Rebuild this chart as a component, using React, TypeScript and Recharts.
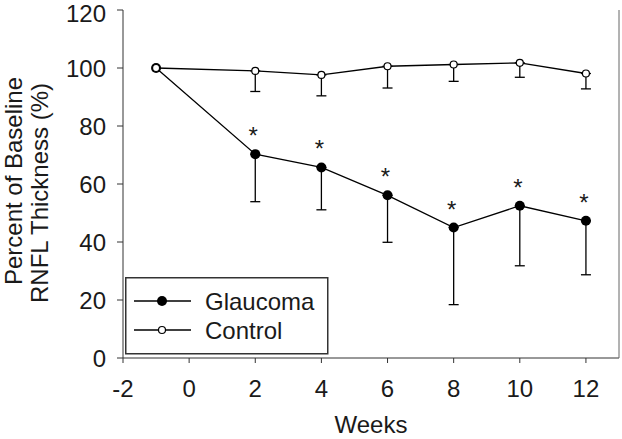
import { ErrorBar, LabelList, Legend, Line, LineChart, XAxis, YAxis } from "recharts"

const weeks = [-1, 2, 4, 6, 8, 10, 12]
const glaucoma = [100, 70.3, 65.7, 56.1, 45.0, 52.5, 47.3]
const glaucomaSem = [null, 16.4, 14.6, 16.2, 26.6, 20.7, 18.6]
const control = [100, 99.0, 97.6, 100.6, 101.2, 101.8, 98.1]
const controlSem = [null, 7.1, 7.2, 7.5, 5.8, 5.0, 5.3]
const significance = ["", "*", "*", "*", "*", "*", "*"]
const xTicks = [-2, 0, 2, 4, 6, 8, 10, 12]
const yTicks = [0, 20, 40, 60, 80, 100, 120]

const data = weeks.map((week, i) => ({
  week,
  glaucoma: glaucoma[i],
  control: control[i],
  // one-sided (lower) error bars
  glaucomaErr: glaucomaSem[i] == null ? null : [glaucomaSem[i], 0],
  controlErr: controlSem[i] == null ? null : [controlSem[i], 0],
  sig: significance[i],
}))

const FONT = "'Liberation Sans', Arial, sans-serif"
const INK = "#1a1a1a"

const renderStar = (props: any) => {
  const { x, y, value } = props
  if (!value) return null
  return (
    <text x={x - 2} y={y - 10} textAnchor="middle" fontSize={24} fontFamily={FONT} fill={INK}>
      {value}
    </text>
  )
}

const renderYLabel = () => (
  <g fontFamily={FONT} fontSize={24} fill={INK}>
    <text transform="translate(22,181) rotate(-90)" textAnchor="middle">
      Percent of Baseline
    </text>
    <text transform="translate(48,193) rotate(-90)" textAnchor="middle">
      RNFL Thickness (%)
    </text>
  </g>
)

const renderLegend = () => (
  <svg width={204} height={78} style={{ display: "block" }}>
    <rect x={0.75} y={0.75} width={202} height={76} fill="#fff" stroke="#333" strokeWidth={1.5} />
    <line x1={9} x2={66} y1={24} y2={24} stroke="#000" strokeWidth={1.3} />
    <circle cx={37} cy={24} r={5} fill="#000" />
    <text x={80} y={32.5} fontSize={24} fontFamily={FONT} fill={INK}>Glaucoma</text>
    <line x1={9} x2={66} y1={53} y2={53} stroke="#000" strokeWidth={1.3} />
    <circle cx={37} cy={53} r={3.5} fill="#fff" stroke="#000" strokeWidth={1.2} />
    <text x={80} y={61.5} fontSize={24} fontFamily={FONT} fill={INK}>Control</text>
  </svg>
)

export default function App() {
  return (
    <div style={{ position: "absolute", left: 0, top: 0 }}>
      <LineChart width={622} height={439} data={data} margin={{ top: 10, right: 0, left: 0, bottom: 0 }}>
        <XAxis
          dataKey="week"
          type="number"
          domain={[-2, 13]}
          ticks={xTicks}
          height={81}
          stroke="#333"
          tickSize={5}
          tickMargin={17}
          tick={{ fontSize: 24, fontFamily: FONT, fill: INK }}
          label={{ value: "Weeks", position: "insideBottom", offset: 6, fontSize: 24, fontFamily: FONT, fill: INK }}
        />
        <XAxis xAxisId="top" orientation="top" type="number" domain={[-2, 13]} height={0} tick={false} tickLine={false} stroke="#666" />
        <YAxis
          type="number"
          domain={[0, 120]}
          ticks={yTicks}
          width={123}
          stroke="#333"
          tickSize={6}
          tickMargin={11}
          tick={{ fontSize: 24, fontFamily: FONT, fill: INK }}
          label={{ content: renderYLabel }}
        />
        <YAxis yAxisId="right" orientation="right" domain={[0, 120]} width={3} tick={false} tickLine={false} stroke="#666" />
        <Legend
          layout="vertical"
          align="center"
          verticalAlign="middle"
          content={renderLegend}
          wrapperStyle={{ position: "absolute", left: 125, top: 277, width: 204, height: 78 }}
        />
        <Line
          dataKey="glaucoma"
          stroke="#000"
          strokeWidth={1.3}
          dot={{ r: 5, fill: "#000", stroke: "#000", strokeWidth: 0 }}
          activeDot={false}
          isAnimationActive={false}
        >
          <ErrorBar dataKey="glaucomaErr" direction="y" width={5} stroke="#000" strokeWidth={1.3} />
          <LabelList dataKey="sig" content={renderStar} />
        </Line>
        <Line
          dataKey="control"
          stroke="#000"
          strokeWidth={1.3}
          dot={{ r: 3.5, fill: "#fff", stroke: "#000", strokeWidth: 1.2 }}
          activeDot={false}
          isAnimationActive={false}
        >
          <ErrorBar dataKey="controlErr" direction="y" width={5} stroke="#000" strokeWidth={1.3} />
        </Line>
      </LineChart>
    </div>
  )
}
